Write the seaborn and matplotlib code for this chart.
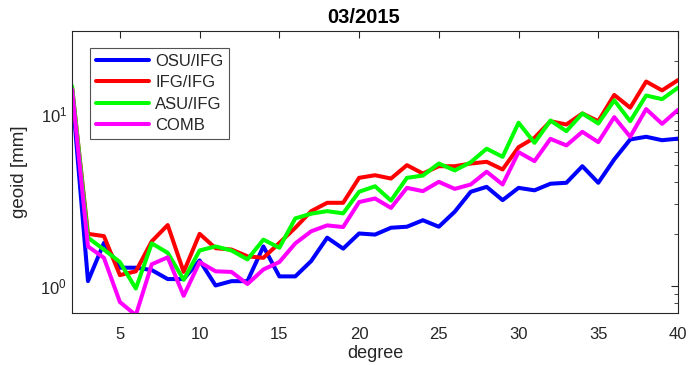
import numpy as np
import pandas as pd
import matplotlib
matplotlib.use("Agg")
import matplotlib.pyplot as plt
import seaborn as sns

degree = list(range(2, 41))

osu_ifg = [13.5, 1.07, 1.78, 1.28, 1.28, 1.24, 1.10, 1.10, 1.41, 1.01,
           1.07, 1.07, 1.70, 1.14, 1.14, 1.40, 1.91, 1.65, 2.02, 1.99,
           2.18, 2.21, 2.41, 2.21, 2.70, 3.52, 3.76, 3.15, 3.71, 3.59,
           3.92, 3.97, 4.95, 3.97, 5.42, 7.07, 7.33, 7.00, 7.15]
ifg_ifg = [14.2, 2.01, 1.95, 1.16, 1.22, 1.82, 2.26, 1.21, 2.01, 1.66,
           1.63, 1.49, 1.46, 1.78, 2.18, 2.72, 3.04, 3.04, 4.24, 4.39,
           4.20, 5.02, 4.49, 4.95, 4.95, 5.13, 5.25, 4.74, 6.38, 7.23,
           9.02, 8.63, 10.0, 9.02, 12.8, 10.8, 15.3, 13.6, 15.6]
asu_ifg = [14.4, 1.91, 1.63, 1.38, 0.97, 1.77, 1.56, 1.09, 1.61, 1.70,
           1.61, 1.43, 1.86, 1.67, 2.47, 2.63, 2.72, 2.64, 3.52, 3.79,
           3.13, 4.24, 4.37, 5.13, 4.68, 5.22, 6.25, 5.61, 8.84, 6.76,
           9.10, 7.90, 10.0, 8.75, 11.9, 9.02, 12.7, 12.1, 14.1]
comb = [13.8, 1.70, 1.46, 0.81, 0.68, 1.34, 1.47, 0.88, 1.38, 1.22,
        1.21, 1.03, 1.25, 1.38, 1.77, 2.08, 2.25, 2.20, 3.07, 3.22,
        2.84, 3.71, 3.55, 4.02, 3.66, 3.88, 4.60, 3.88, 5.97, 5.30,
        7.13, 6.53, 7.83, 6.82, 9.52, 7.33, 10.6, 8.71, 10.5]

labels = ["OSU/IFG", "IFG/IFG", "ASU/IFG", "COMB"]
colors = ["#0000ff", "#ff0000", "#00ff00", "#ff00ff"]

df = pd.concat([
    pd.DataFrame({"degree": degree, "geoid": vals, "solution": name})
    for name, vals in zip(labels, [osu_ifg, ifg_ifg, asu_ifg, comb])
])

sns.set_style("white")
plt.rcParams["font.family"] = ["Liberation Sans", "DejaVu Sans"]
plt.rcParams["mathtext.fontset"] = "custom"
plt.rcParams["mathtext.rm"] = "Liberation Sans"

fig = plt.figure(figsize=(6.88, 3.65), dpi=100)
ax = fig.add_axes([0.1047, 0.1425, 0.8808, 0.7725])

sns.lineplot(
    data=df,
    x="degree",
    y="geoid",
    hue="solution",
    hue_order=labels,
    palette=colors,
    linewidth=2.9,
    ax=ax,
)

ax.set_yscale("log")
ax.set_xlim(2, 40)
ax.set_ylim(0.7, 30)
ax.set_xticks([5, 10, 15, 20, 25, 30, 35, 40])

dark = "#262626"
for s in ax.spines.values():
    s.set_color(dark)
    s.set_linewidth(0.8)
ax.tick_params(which="both", direction="in", top=True, right=True,
               colors=dark, labelsize=12)
ax.tick_params(axis="x", which="both", pad=10)
ax.tick_params(which="major", length=5)
ax.tick_params(which="minor", length=3)

ax.set_title("03/2015", fontsize=14.5, fontweight="bold", color="black",
             pad=6, x=0.482)
ax.set_xlabel("degree", fontsize=13, color=dark, labelpad=2)
ax.set_ylabel("geoid [mm]", fontsize=13.5, color=dark, labelpad=9)

leg = ax.legend(loc="upper left", bbox_to_anchor=(0.0297, 0.9397),
                borderaxespad=0, fontsize=12, frameon=True, fancybox=False,
                handlelength=3.2, borderpad=0.35, labelspacing=0.38,
                handletextpad=0.35)
leg.get_frame().set_edgecolor(dark)
leg.get_frame().set_linewidth(0.8)
for line in leg.get_lines():
    line.set_linewidth(2.9)

fig.savefig("out.png", dpi=100)
